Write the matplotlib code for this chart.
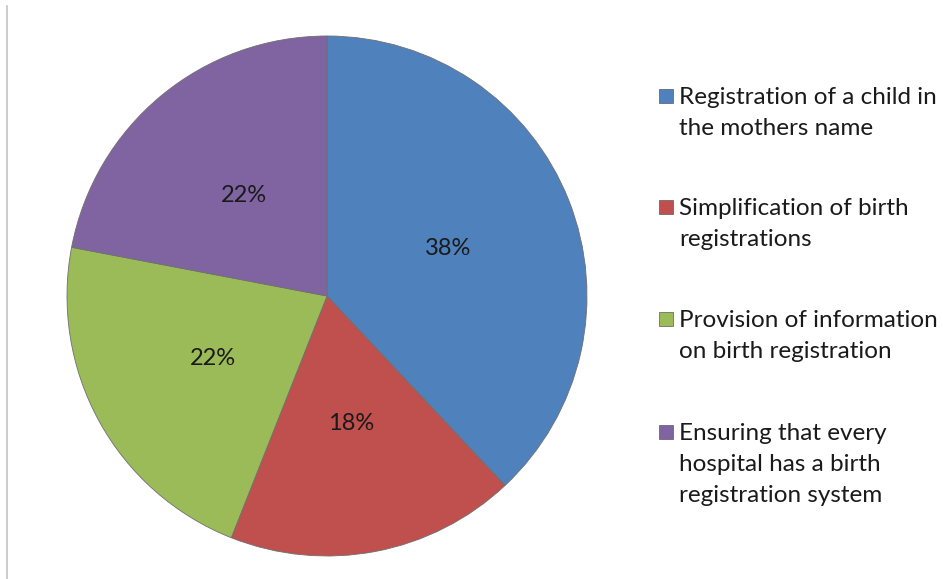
import matplotlib
matplotlib.use("Agg")
import matplotlib.pyplot as plt
from matplotlib.patches import Rectangle
from matplotlib.lines import Line2D

# data
etiquetas = [
    "Registration of a child in\nthe mothers name",
    "Simplification of birth\nregistrations",
    "Provision of information\non birth registration",
    "Ensuring that every\nhospital has a birth\nregistration system",
]
porcentajes = [38, 18, 22, 22]
colores = ["#4F81BD", "#C0504D", "#9BBB59", "#8064A2"]

plt.rcParams["font.family"] = ["Lato", "DejaVu Sans"]

W, H = 943, 579
fig = plt.figure(figsize=(W / 100, H / 100), dpi=100)

# pie
ax = fig.add_axes([67 / W, 1 - 556 / H, 520 / W, 520 / H])
ax.pie(porcentajes, colors=colores, startangle=90, counterclock=False,
       autopct="%1.0f%%", pctdistance=0.5, radius=1.0,
       wedgeprops={"edgecolor": "#6f6f6f", "linewidth": 0.6},
       textprops={"fontsize": 17, "color": "#1a1a1a"})
ax.set_xlim(-1.0, 1.0)
ax.set_ylim(-1.0, 1.0)
ax.set_aspect("equal")
ax.axis("off")

# borde izquierdo
fig.add_artist(Line2D([7.5 / W, 7.5 / W], [0, 1 - 6 / H], transform=fig.transFigure,
                      color="#c4c4c4", linewidth=1.2))

# leyenda manual
centros = [96, 207, 319, 432]
for lab, col, c in zip(etiquetas, colores, centros):
    fig.add_artist(Rectangle((659 / W, 1 - (c + 7) / H), 14 / W, 14 / H,
                             transform=fig.transFigure, facecolor=col,
                             edgecolor="#5a5a5a", linewidth=0.5))
    fig.text(679 / W, 1 - (c - 9) / H, lab, fontsize=17.5, color="#1a1a1a",
             va="top", ha="left", linespacing=1.58)

fig.savefig("out.png", dpi=100, facecolor="white")
